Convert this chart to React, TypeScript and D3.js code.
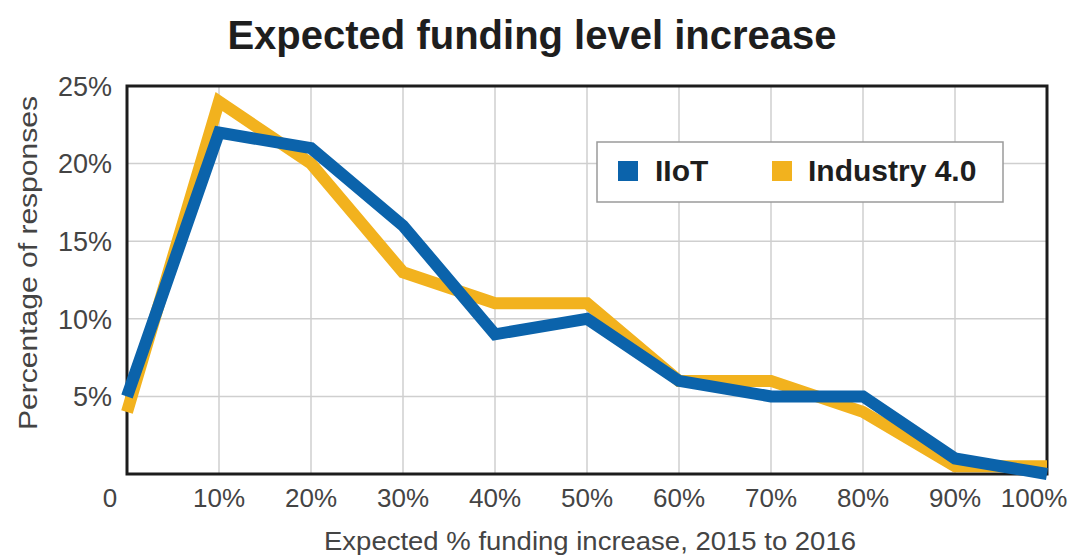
import React from "react";
import * as d3 from "d3";

const categories = [0, 10, 20, 30, 40, 50, 60, 70, 80, 90, 100];
const iiotValues = [5, 22, 21, 16, 9, 10, 6, 5, 5, 1, 0];
const industryValues = [4, 24, 20, 13, 11, 11, 6, 6, 4, 0.5, 0.5];
const yTicks = [5, 10, 15, 20, 25];
const xTickLabels = ["0", "10%", "20%", "30%", "40%", "50%", "60%", "70%", "80%", "90%", "100%"];
const seriesNames = ["IIoT", "Industry 4.0"];

const W = 1072;
const H = 555;
const M = { left: 127, right: 1047, top: 86, bottom: 474 };
const BLUE = "#0b63ab";
const YELLOW = "#f2b21e";
const FONT = "'Liberation Sans', Arial, Helvetica, sans-serif";

export default function App() {
  const x = d3.scaleLinear().domain([0, 100]).range([M.left, M.right]);
  const y = d3.scaleLinear().domain([0, 25]).range([M.bottom, M.top]);
  const line = d3
    .line<number>()
    .x((_, i) => x(categories[i]))
    .y((d) => y(d));

  const xLabelShift = (v: number) => (v === 0 ? -17 : v === 100 ? -13 : 0);

  return (
    <div style={{ position: "absolute", left: 0, top: 0, width: W, height: H, background: "#fff" }}>
      <svg width={W} height={H} style={{ display: "block", fontFamily: FONT }}>
        <rect x={0} y={0} width={W} height={H} fill="#fff" />
        <text x={532} y={49} textAnchor="middle" fontSize={40} fontWeight="bold" fill="#1e1e1e">
          Expected funding level increase
        </text>
        {/* gridlines */}
        {categories
          .filter((c) => c > 0 && c < 100)
          .map((c) => (
            <line key={"gx" + c} x1={x(c)} x2={x(c)} y1={M.top} y2={M.bottom} stroke="#cfcfcf" strokeWidth={1.5} />
          ))}
        {yTicks
          .filter((t) => t < 25)
          .map((t) => (
            <line key={"gy" + t} x1={M.left} x2={M.right} y1={y(t)} y2={y(t)} stroke="#cfcfcf" strokeWidth={1.5} />
          ))}
        {/* frame */}
        <rect
          x={M.left}
          y={M.top}
          width={M.right - M.left}
          height={M.bottom - M.top}
          fill="none"
          stroke="#1c1c1c"
          strokeWidth={3}
        />
        {/* y tick labels */}
        {yTicks.map((t) => (
          <text key={"yl" + t} x={112} y={y(t)} dy="0.36em" textAnchor="end" fontSize={27} fill="#444">
            {t + "%"}
          </text>
        ))}
        {/* x tick labels */}
        {categories.map((c, i) => (
          <text key={"xl" + c} x={x(c) + xLabelShift(c)} y={507} textAnchor="middle" fontSize={26} fill="#444">
            {xTickLabels[i]}
          </text>
        ))}
        {/* axis titles */}
        <text x={590} y={550} textAnchor="middle" fontSize={26} textLength={532} lengthAdjust="spacingAndGlyphs" fill="#444">
          Expected % funding increase, 2015 to 2016
        </text>
        <text
          transform={`translate(37, 263) rotate(-90)`}
          textAnchor="middle"
          fontSize={26}
          textLength={334}
          lengthAdjust="spacingAndGlyphs"
          fill="#444"
        >
          Percentage of responses
        </text>
        {/* lines */}
        <path d={line(industryValues) || ""} fill="none" stroke={YELLOW} strokeWidth={12} strokeLinejoin="miter" />
        <path d={line(iiotValues) || ""} fill="none" stroke={BLUE} strokeWidth={12} strokeLinejoin="miter" />
        {/* legend */}
        <rect x={597} y={142} width={406} height={60} fill="#fff" stroke="#9a9a9a" strokeWidth={1.5} />
        <rect x={618} y={161} width={20} height={20} fill={BLUE} />
        <text x={655} y={181} fontSize={30} fontWeight="bold" fill="#1e1e1e">
          {seriesNames[0]}
        </text>
        <rect x={772} y={161} width={20} height={20} fill={YELLOW} />
        <text x={808} y={181} fontSize={30} fontWeight="bold" fill="#1e1e1e">
          {seriesNames[1]}
        </text>
      </svg>
    </div>
  );
}
